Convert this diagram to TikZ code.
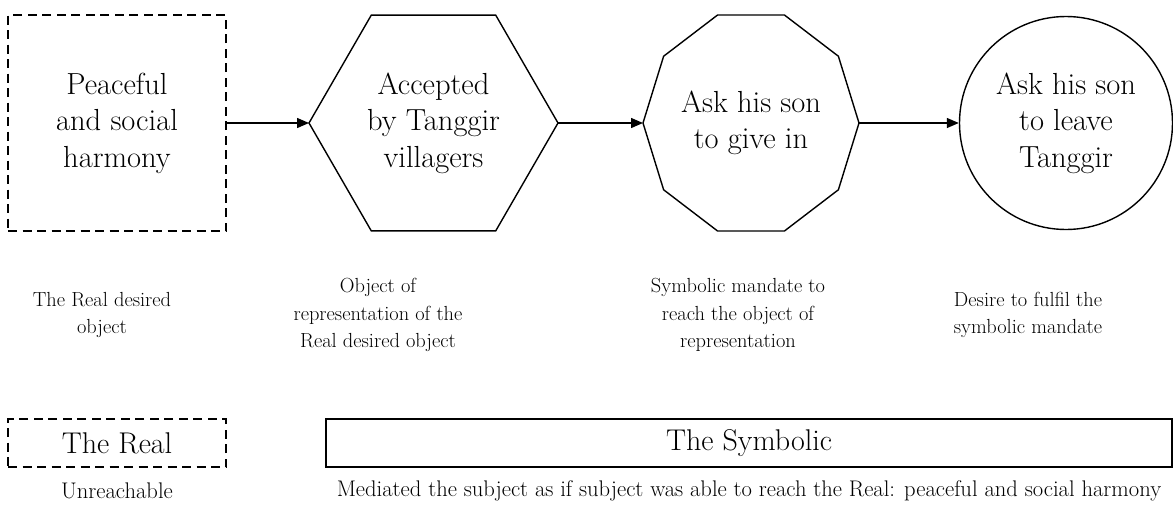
\documentclass[tikz,border=0pt]{standalone}
\usetikzlibrary{arrows.meta}
\begin{document}
\begin{tikzpicture}[x=1pt,y=-1pt,
  shapetext/.style={align=center,font=\rmfamily\fontsize{30.5}{36.5}\selectfont,inner sep=0pt},
  boxtext/.style={font=\rmfamily\fontsize{30}{36}\selectfont,inner sep=0pt},
  labeltext/.style={align=center,font=\rmfamily\fontsize{20.4}{27.5}\selectfont,inner sep=0pt},
  bottomtext/.style={font=\rmfamily\fontsize{22.6}{26}\selectfont,inner sep=0pt},
  outline/.style={draw=black,line width=1.4pt},
  dashedline/.style={outline,dash pattern=on 9pt off 5.5pt},
  conn/.style={line width=1.4pt,-{Triangle[length=12pt,width=10pt]}},
]
\useasboundingbox (0,0) rectangle (1173,504);
% dashed square
\node[dashedline,minimum width=218pt,minimum height=216pt,shapetext] (real) at (117,123) {Peaceful\\and social\\harmony};
% hexagon
\coordinate (hc) at (433.5,123);
\foreach \i in {0,...,5}{\coordinate (h\i) at ([shift={(\i*60:124.5pt)}]hc);}
\draw[outline,line join=miter] (h0) -- (h1) -- (h2) -- (h3) -- (h4) -- (h5) -- cycle;
\node[shapetext] (hex) at (hc) {Accepted\\by Tanggir\\villagers};
% decagon
\coordinate (dc) at (751,123);
\foreach \i in {0,...,9}{\coordinate (d\i) at ([shift={(\i*36:108pt and 113.6pt)}]dc);}
\draw[outline] (d0) -- (d1) -- (d2) -- (d3) -- (d4) -- (d5) -- (d6) -- (d7) -- (d8) -- (d9) -- cycle;
\node[shapetext] (dec) at (dc) {Ask his son\\to give in};
% circle
\node[outline,circle,minimum size=213pt,shapetext] (circ) at (1066,123) {Ask his son\\to leave\\Tanggir};
% connectors
\draw[conn] (real.east) -- (h3);
\draw[conn] (h0) -- (d5);
\draw[conn] (d0) -- (circ.west);
% labels
\node[labeltext] (l1) at (102,315) {The Real desired\\object};
\node[labeltext] (l2) at (378,315) {Object of\\representation of the\\Real desired object};
\node[labeltext] (l3) at (738,315) {Symbolic mandate to\\reach the object of\\representation};
\node[labeltext] (l4) at (1028,315) {Desire to fulfil the\\symbolic mandate};
% bottom
\node[dashedline,minimum width=218pt,minimum height=48pt,boxtext] (realbox) at (117,443) {The Real};
\node[outline,minimum width=846pt,minimum height=48pt,boxtext] (symbox) at (749,443) {The Symbolic};
\node[bottomtext] (unreach) at (117,491) {Unreachable};
\node[bottomtext] (med) at (749,491) {Mediated the subject as if subject was able to reach the Real: peaceful and social harmony};
\end{tikzpicture}
\end{document}
